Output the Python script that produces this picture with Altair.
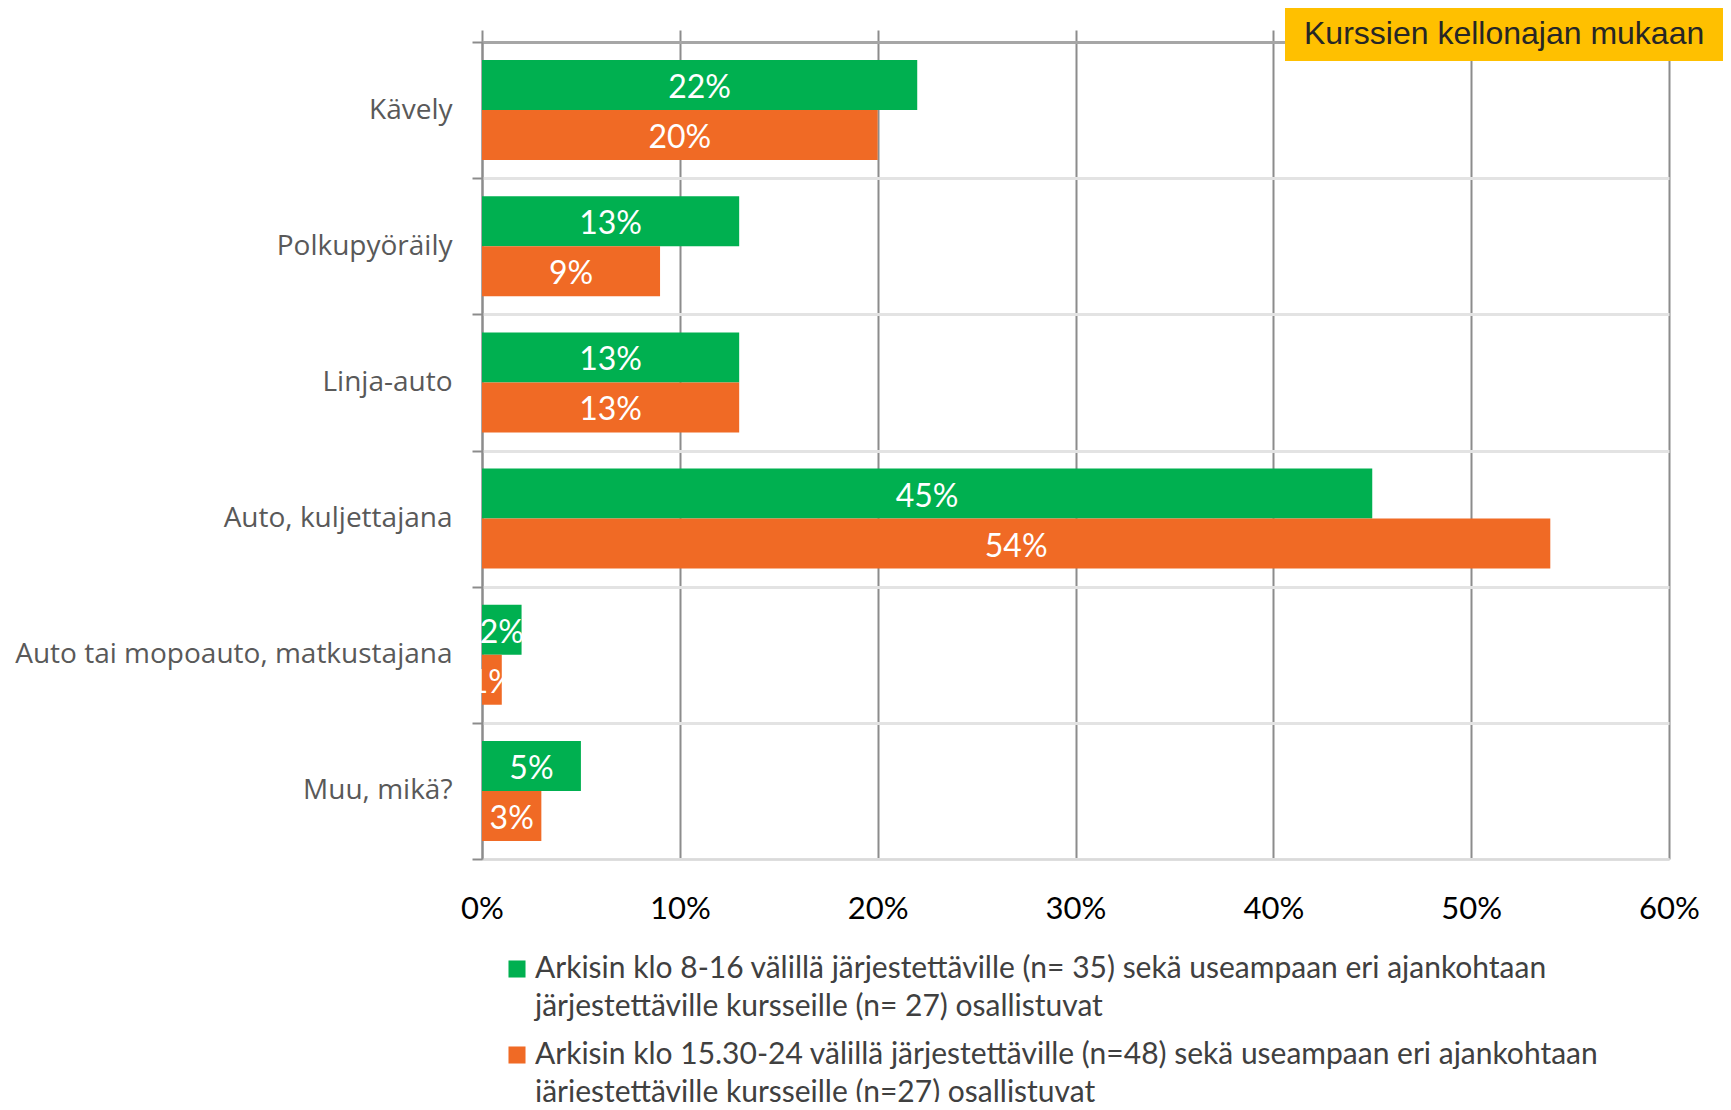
import altair as alt
import pandas as pd

categories = ["Kävely", "Polkupyöräily", "Linja-auto", "Auto, kuljettajana",
              "Auto tai mopoauto, matkustajana", "Muu, mikä?"]
series = [
    "Arkisin klo 8-16 välillä järjestettäville (n= 35) sekä useampaan eri ajankohtaan|järjestettäville kursseille (n= 27) osallistuvat",
    "Arkisin klo 15.30-24 välillä järjestettäville (n=48) sekä useampaan eri ajankohtaan|järjestettäville kursseille (n=27) osallistuvat",
]
green_values = [22, 13, 13, 45, 2, 5]
orange_values = [20, 9, 13, 54, 1, 3]
colors = ["#00B050", "#F06A25"]
x_ticks = [0, 0.1, 0.2, 0.3, 0.4, 0.5, 0.6]
box_label = "Kurssien kellonajan mukaan"

rows = []
for s, vals in zip(series, [green_values, orange_values]):
    for c, v in zip(categories, vals):
        rows.append({"category": c, "series": s, "value": v / 100.0,
                     "mid": v / 200.0, "label": f"{v}%"})
df = pd.DataFrame(rows)

y_axis = alt.Axis(title=None, tickBand="extent", ticks=True, tickSize=10,
                  tickColor="#8c8c8c", tickWidth=2, domain=True,
                  domainColor="#8c8c8c", domainWidth=2, grid=True,
                  gridColor="#e3e3e3", gridWidth=3, labelFont="Open Sans",
                  labelFontSize=28, labelColor="#595959", labelPadding=20,
                  labelLimit=600)
y_enc = alt.Y("category:N", sort=categories,
              scale=alt.Scale(paddingInner=0, paddingOuter=0),
              axis=y_axis)
yoff = alt.YOffset("series:N", sort=series,
                   scale=alt.Scale(paddingInner=0, paddingOuter=0.362))
x_scale = alt.Scale(domain=[0, 0.6], nice=False, zero=True)

bars = alt.Chart(df).mark_bar(cornerRadius=0).encode(
    x=alt.X("value:Q", scale=x_scale,
            axis=alt.Axis(orient="bottom", title=None, format=".0%", values=x_ticks,
                          ticks=False, domain=True, domainColor="#dadada",
                          domainWidth=2, grid=True, gridColor="#8c8c8c",
                          gridWidth=2, labelFont="Lato", labelFontSize=31,
                          labelColor="#000000", labelPadding=35,
                          labelFlush=False, labelBaseline="top")),
    y=y_enc,
    yOffset=yoff,
    color=alt.Color("series:N", sort=series,
                    scale=alt.Scale(domain=series, range=colors),
                    legend=alt.Legend(
                        title=None, orient="none", legendX=20, legendY=912,
                        direction="vertical", symbolType="square",
                        symbolSize=290, symbolStrokeWidth=0,
                        labelFont="Lato", labelFontSize=30,
                        labelColor="#404040", labelLimit=1300,
                        labelExpr="split(datum.label, '|')",
                        rowPadding=18, labelOffset=3)),
)

texts = alt.Chart(df).mark_text(color="white", font="Lato", fontSize=32,
                                baseline="middle", align="center", dy=3).encode(
    x=alt.X("mid:Q", scale=x_scale,
            axis=alt.Axis(orient="top", title=None, labels=False, values=x_ticks,
                          ticks=True, tickSize=12, tickColor="#8c8c8c",
                          tickWidth=2, domain=True, domainColor="#a6a6a6",
                          domainWidth=3, grid=False)),
    y=y_enc,
    yOffset=yoff,
    text="label:N",
)

box_df = pd.DataFrame({"t": [box_label]})
box = alt.Chart(box_df).mark_rect(color="#FFC000").encode(
    x=alt.value(803), x2=alt.value(1245), y=alt.value(-39), y2=alt.value(19))
box_text = alt.Chart(box_df).mark_text(font="Liberation Sans", fontSize=32,
                                       color="#262626", align="left",
                                       baseline="middle").encode(
    x=alt.value(822), y=alt.value(-8), text="t:N")

chart = alt.layer(bars, texts, box, box_text).resolve_axis(
    x="independent").resolve_scale(x="shared").properties(
    width=1187, height=817,
    autosize=alt.AutoSizeParams(type="none"),
    padding={"left": 474, "top": 34, "right": 54, "bottom": 243},
).configure_view(stroke=None).configure(
    style={"guide-label": {"lineHeight": 38}})

chart.save("out.html", embed_options={"renderer": "svg", "actions": False})
